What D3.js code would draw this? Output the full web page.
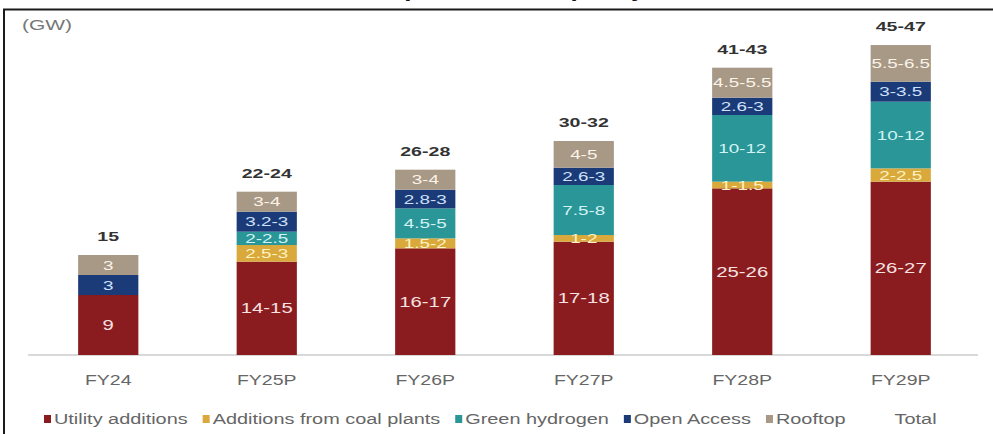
<!DOCTYPE html>
<html>
<head>
<meta charset="utf-8">
<script src="https://cdn.jsdelivr.net/npm/d3@7"></script>
<style>
  html, body { margin: 0; padding: 0; background: #fff; }
  svg { display: block; font-family: "Liberation Sans", Arial, sans-serif; }
</style>
</head>
<body>
<svg id="chart" width="993" height="434"></svg>
<script>
// Captive solar capacity by source, GW
const categories = ["FY24", "FY25P", "FY26P", "FY27P", "FY28P", "FY29P"];
const seriesNames = ["Utility additions", "Additions from coal plants", "Green hydrogen", "Open Access", "Rooftop"];
const utility     = [9, 14, 16, 17, 25, 26];
const coal        = [0, 2.5, 1.5, 1, 1, 2];
const hydrogen    = [0, 2, 4.5, 7.5, 10, 10];
const openAccess  = [3, 3, 2.8, 2.6, 2.6, 3];
const rooftop     = [3, 3, 3, 4, 4.5, 5.5];
const utilityLabels    = ["9", "14-15", "16-17", "17-18", "25-26", "26-27"];
const coalLabels       = ["", "2.5-3", "1.5-2", "1-2", "1-1.5", "2-2.5"];
const hydrogenLabels   = ["", "2-2.5", "4.5-5", "7.5-8", "10-12", "10-12"];
const openAccessLabels = ["3", "3.2-3", "2.8-3", "2.6-3", "2.6-3", "3-3.5"];
const rooftopLabels    = ["3", "3-4", "3-4", "4-5", "4.5-5.5", "5.5-6.5"];
const totalLabels      = ["15", "22-24", "26-28", "30-32", "41-43", "45-47"];

const colors     = ["#8a1c1f", "#d9a93c", "#2a9698", "#1b3b78", "#a89886"];
const textColors = ["#f6e2e2", "#fff2c2", "#d2f3f3", "#cfe0fa", "#fbf3e6"];

const seriesValues = [utility, coal, hydrogen, openAccess, rooftop];
const seriesLabels = [utilityLabels, coalLabels, hydrogenLabels, openAccessLabels, rooftopLabels];

const rows = categories.map((c, i) => {
  const r = { category: c };
  seriesNames.forEach((s, k) => { r[s] = seriesValues[k][i]; });
  return r;
});

// The type in this chart is set wide: every label is stretched horizontally.
const WIDE = 1.42;
function placeWide(sel, px, py, sx = WIDE) {
  sel.attr("x", 0).attr("y", 0)
    .attr("transform", (d, i) => `translate(${px(d, i)},${py(d, i)}) scale(${sx},1)`);
}

const svg = d3.select("#chart");

// Title, sitting above the frame's top edge
svg.append("text")
  .attr("x", 371).attr("y", -4)
  .attr("font-size", 26).attr("font-weight", "bold").attr("fill", "#111")
  .text("Captive solar capacity");

// Frame
svg.append("rect")
  .attr("x", 4).attr("y", 9.5).attr("width", 1100).attr("height", 500)
  .attr("fill", "none").attr("stroke", "#1a1a1a").attr("stroke-width", 2);

const x = d3.scaleBand().domain(categories).range([29, 980])
  .paddingInner(0.62).paddingOuter(0.31);
const y = d3.scaleLinear().domain([0, 50]).range([355, 21.7]);

// Unit label
svg.append("text").datum(0)
  .attr("font-size", 14).attr("fill", "#777")
  .text("(GW)")
  .call(placeWide, () => 22, () => 30, 1.5);

// Baseline axis
const xAxis = d3.axisBottom(x).tickSize(0).tickPadding(19);
const gx = svg.append("g").attr("transform", `translate(0,${y(0)})`).call(xAxis);
gx.select(".domain").remove();
gx.append("line")
  .attr("x1", 28).attr("x2", 978).attr("y1", 0).attr("y2", 0)
  .attr("stroke", "#d9d9d9").attr("stroke-width", 2);
gx.selectAll(".tick text")
  .attr("font-size", 15).attr("fill", "#666")
  .attr("font-family", "Liberation Sans, Arial, sans-serif")
  .attr("transform", "scale(1.3,1)");

// Stacked bars
const stacked = d3.stack().keys(seriesNames)(rows);
const layers = svg.append("g").selectAll("g").data(stacked).join("g")
  .attr("fill", (d, k) => colors[k]);

layers.selectAll("rect").data(d => d).join("rect")
  .attr("x", d => x(d.data.category))
  .attr("width", x.bandwidth())
  .attr("y", d => y(d[1]))
  .attr("height", d => y(d[0]) - y(d[1]));

// Segment labels
stacked.forEach((layer, k) => {
  const items = layer.map((d, i) => ({ d, label: seriesLabels[k][i] }))
    .filter(o => o.label !== "");
  svg.append("g").selectAll("text").data(items).join("text")
    .attr("dy", "0.36em")
    .attr("text-anchor", "middle")
    .attr("font-size", k === 0 ? 14 : 13)
    .attr("fill", textColors[k])
    .text(o => o.label)
    .call(placeWide,
      o => x(o.d.data.category) + x.bandwidth() / 2,
      o => (y(o.d[0]) + y(o.d[1])) / 2, 1.45);
});

// Totals above each bar
const topLayer = stacked[stacked.length - 1];
svg.append("g").selectAll("text").data(topLayer).join("text")
  .attr("text-anchor", "middle")
  .attr("font-size", 13.5).attr("font-weight", "bold").attr("fill", "#333")
  .text((d, i) => totalLabels[i])
  .call(placeWide, d => x(d.data.category) + x.bandwidth() / 2, d => y(d[1]) - 14, 1.45);

// Legend
const legend = svg.append("g").attr("transform", "translate(44,424)");
let lx = 0;
const legendItems = seriesNames.concat(["Total"]);
legendItems.forEach((name, k) => {
  const g = legend.append("g").attr("transform", `translate(${lx},0)`);
  let tx = 0;
  if (k < colors.length) {
    g.append("rect").attr("x", 0).attr("y", -9).attr("width", 7).attr("height", 8)
      .attr("fill", colors[k]);
    tx = 10;
  } else {
    tx = 34;
  }
  const t = g.append("text").datum(0)
    .attr("font-size", 14).attr("fill", "#666").text(name)
    .call(placeWide, () => tx, () => 0, WIDE);
  lx += tx + t.node().getComputedTextLength() * WIDE + 15;
});
</script>
</body>
</html>
